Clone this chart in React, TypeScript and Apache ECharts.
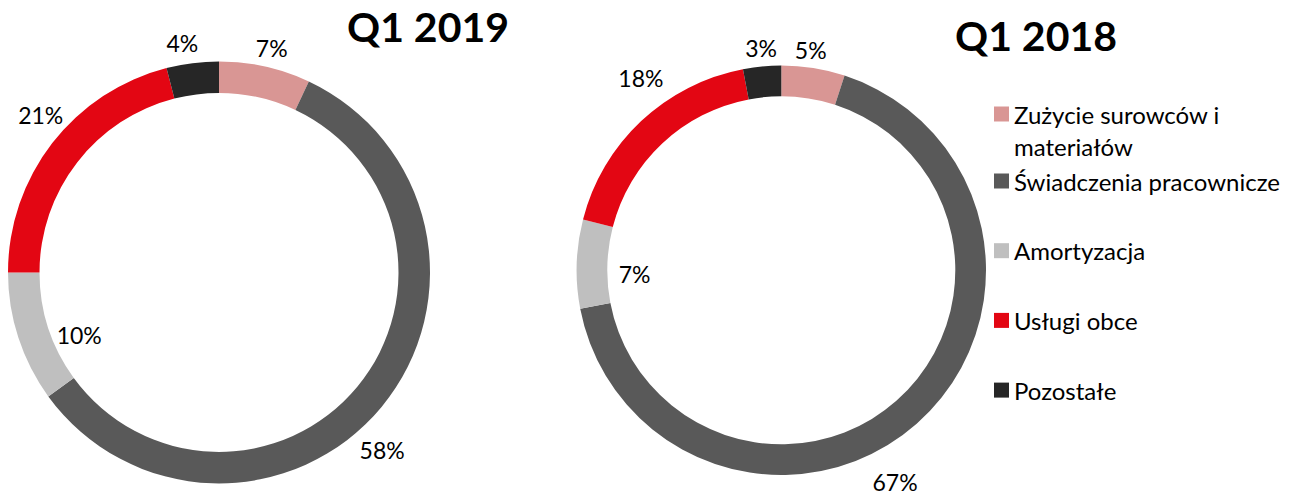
import React, { useEffect, useRef } from "react";
import * as echarts from "echarts";

const categories = [
  "Zużycie surowców i materiałów",
  "Świadczenia pracownicze",
  "Amortyzacja",
  "Usługi obce",
  "Pozostałe",
];
const values2019 = [7, 58, 10, 21, 4];
const values2018 = [5, 67, 7, 18, 3];
const titles = ["Q1 2019", "Q1 2018"];
const colors = ["#D99694", "#595959", "#BFBFBF", "#E30613", "#262626"];

const FONT = "Lato, 'Open Sans', sans-serif";

type PieGeom = { cx: number; cy: number; rIn: number; rOut: number; dist: number[]; nudge: number[] };

const geom2019: PieGeom = { cx: 219, cy: 272.4, rIn: 179.5, rOut: 211, dist: [20, 30, -58, 27, 21], nudge: [0.6, 7.8, -6, 3.7, -1.9] };
const geom2018: PieGeom = { cx: 781.3, cy: 270.3, rIn: 174, rOut: 204.7, dist: [18, 36, -58, 33, 19], nudge: [-1.4, 13.2, -3.2, 7, 0.2] };

function labelLayoutFor(values: number[], g: PieGeom) {
  const total = values.reduce((a, b) => a + b, 0);
  return (params: any) => {
    const i = params.dataIndex;
    let cum = 0;
    for (let k = 0; k < i; k++) cum += values[k];
    cum += values[i] / 2;
    const ang = ((cum / total) * 360 + g.nudge[i]) * Math.PI / 180;
    const r = g.rOut + g.dist[i];
    return {
      x: g.cx + r * Math.sin(ang),
      y: g.cy - r * Math.cos(ang),
      align: "center",
      verticalAlign: "middle",
    };
  };
}

function pieSeries(values: number[], g: PieGeom) {
  return {
    type: "pie",
    center: [g.cx, g.cy],
    radius: [g.rIn, g.rOut],
    startAngle: 90,
    clockwise: true,
    avoidLabelOverlap: false,
    itemStyle: { borderWidth: 0 },
    label: {
      show: true,
      position: "outside",
      formatter: "{c}%",
      fontFamily: FONT,
      fontSize: 23,
      color: "#000",
    },
    labelLine: { show: false },
    labelLayout: labelLayoutFor(values, g),
    emphasis: { disabled: true },
    data: categories.map((name, i) => ({ name, value: values[i], itemStyle: { color: colors[i] } })),
  };
}

export default function App() {
  const ref = useRef<HTMLDivElement>(null);
  useEffect(() => {
    if (!ref.current) return;
    const chart = echarts.init(ref.current, null, { renderer: "svg" });
    const legendCommon = {
      orient: "vertical",
      left: 994,
      padding: 0,
      icon: "rect",
      itemWidth: 15,
      itemHeight: 15,
      selectedMode: false,
    };
    const legendText = { fontFamily: FONT, fontSize: 24, lineHeight: 32, color: "#000" };
    chart.setOption({
      animation: false,
      backgroundColor: "#fff",
      title: [
        {
          text: titles[0],
          left: 428,
          top: 6,
          padding: 0,
          textAlign: "center",
          textStyle: { fontFamily: FONT, fontSize: 41, fontWeight: "bold", color: "#000" },
        },
        {
          text: titles[1],
          left: 1036,
          top: 15,
          padding: 0,
          textAlign: "center",
          textStyle: { fontFamily: FONT, fontSize: 41, fontWeight: "bold", color: "#000" },
        },
      ],
      legend: [
        {
          ...legendCommon,
          top: 66,
          data: [categories[0]],
          formatter: () => "\nZużycie surowców i\nmateriałów",
          textStyle: legendText,
        },
        {
          ...legendCommon,
          top: 165,
          itemGap: 37.7,
          data: categories.slice(1),
          textStyle: legendText,
        },
      ],
      series: [pieSeries(values2019, geom2019), pieSeries(values2018, geom2018)],
    });
    return () => chart.dispose();
  }, []);
  return (
    <div
      ref={ref}
      style={{ position: "fixed", left: 0, top: 0, width: 1304, height: 496, background: "#fff" }}
    />
  );
}
